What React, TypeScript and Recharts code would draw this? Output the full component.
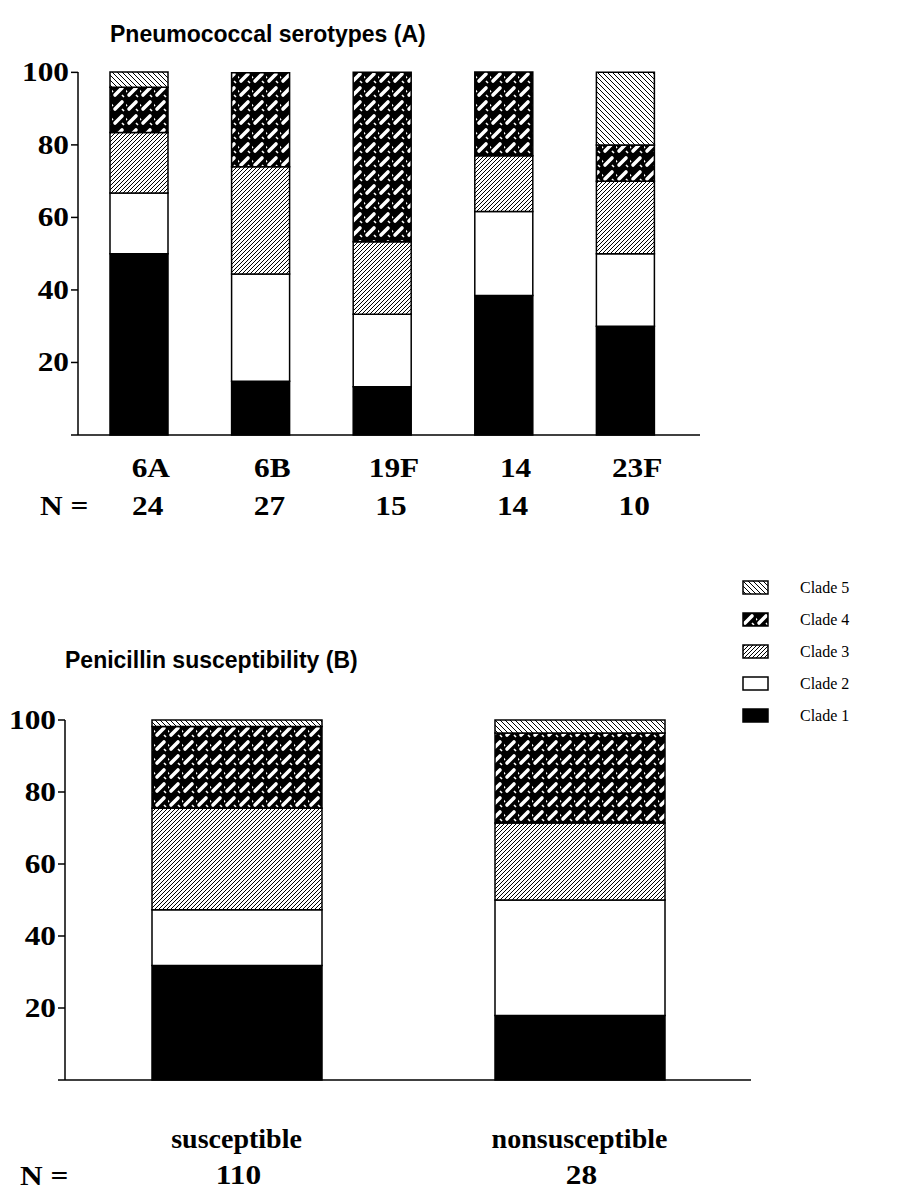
import React from "react";
import { Bar, BarChart, XAxis, YAxis } from "recharts";

const serotypes = ["6A", "6B", "19F", "14", "23F"];
const serotypeN = [24, 27, 15, 14, 10];
const clade1A = [50, 14.8, 13.3, 38.5, 30];
const clade2A = [16.7, 29.6, 20, 23.1, 20];
const clade3A = [16.7, 29.6, 20, 15.4, 20];
const clade4A = [12.5, 25.9, 46.7, 23.1, 10];
const clade5A = [4.2, 0, 0, 0, 20];

const penicillin = ["susceptible", "nonsusceptible"];
const penicillinN = [110, 28];
const clade1B = [31.8, 17.9];
const clade2B = [15.5, 32.1];
const clade3B = [28.2, 21.4];
const clade4B = [22.7, 25.0];
const clade5B = [1.8, 3.6];

const yTicks = [0, 20, 40, 60, 80, 100];
const clades = ["Clade 5", "Clade 4", "Clade 3", "Clade 2", "Clade 1"];

const dataA = serotypes.map((s, i) => ({
  name: s,
  n: serotypeN[i],
  c1: clade1A[i],
  c2: clade2A[i],
  c3: clade3A[i],
  c4: clade4A[i],
  c5: clade5A[i],
}));

const dataB = penicillin.map((s, i) => ({
  name: s,
  n: penicillinN[i],
  c1: clade1B[i],
  c2: clade2B[i],
  c3: clade3B[i],
  c4: clade4B[i],
  c5: clade5B[i],
}));

const serif = "'Liberation Serif', 'Times New Roman', serif";
const sans = "'Liberation Sans', Arial, sans-serif";
const tickSize = 28;
const stretch = 1.12;

// fills for the five clades, bottom to top
const fills = ["#000", "#fff", "url(#hatch3)", "url(#weave4)", "url(#hatch5)"];

function Patterns() {
  return (
    <svg width={0} height={0} style={{ position: "absolute" }}>
      <defs>
        <pattern id="hatch3" width={4} height={4} patternUnits="userSpaceOnUse">
          <rect width={4} height={4} fill="#fff" />
          <path d="M-1,1 L1,-1 M0,4 L4,0 M3,5 L5,3" stroke="#000" strokeWidth={1} />
        </pattern>
        <pattern id="hatch5" width={5} height={5} patternUnits="userSpaceOnUse">
          <rect width={5} height={5} fill="#fff" />
          <path d="M-1,4 L1,6 M0,0 L5,5 M4,-1 L6,1" stroke="#000" strokeWidth={1} />
        </pattern>
        <pattern id="weave4" width={14} height={14} patternUnits="userSpaceOnUse">
          <rect width={14} height={14} fill="#000" />
          <path d="M3,11 L10,4" stroke="#fff" strokeWidth={3.6} strokeLinecap="round" />
          <path d="M10,11 L12,13 M-1,6 L1,8" stroke="#fff" strokeWidth={1.6} />
        </pattern>
      </defs>
    </svg>
  );
}

function StretchText({ x, y, anchor = "middle", size = tickSize, sx = stretch, children }: any) {
  return (
    <text
      transform={`translate(${x} ${y}) scale(${sx} 1)`}
      textAnchor={anchor}
      fontFamily={serif}
      fontWeight="bold"
      fontSize={size}
      fill="#000"
    >
      {children}
    </text>
  );
}

function YTick(props: any) {
  const { x, y, payload } = props;
  if (payload.value === 0) return null;
  return (
    <StretchText x={x} y={y + 9} anchor="end">
      {payload.value}
    </StretchText>
  );
}

function SeroTick(props: any) {
  const { x, y, payload, index } = props;
  return (
    <g>
      <StretchText x={x + 12} y={y + 42}>
        {payload.value}
      </StretchText>
      <StretchText x={x + 9} y={y + 80}>
        {serotypeN[index]}
      </StretchText>
    </g>
  );
}

function PenTick(props: any) {
  const { x, y, payload, index } = props;
  return (
    <g>
      <StretchText x={x} y={y + 68} sx={1}>
        {payload.value}
      </StretchText>
      <StretchText x={x + 2} y={y + 104}>
        {penicillinN[index]}
      </StretchText>
    </g>
  );
}

function Bars() {
  return ["c1", "c2", "c3", "c4", "c5"].map((k, i) => (
    <Bar
      key={k}
      dataKey={k}
      stackId="a"
      fill={fills[i]}
      stroke="#000"
      strokeWidth={1.5}
      isAnimationActive={false}
    />
  ));
}

function Legend() {
  return (
    <div style={{ position: "absolute", left: 742, top: 572 }}>
      {clades.map((c, i) => (
        <div key={c} style={{ height: 32, display: "flex", alignItems: "center" }}>
          <svg width={28} height={16}>
            <rect x={1} y={1} width={25} height={13} fill={fills[4 - i]} stroke="#000" strokeWidth={1.5} />
          </svg>
          <span style={{ marginLeft: 30, fontFamily: serif, fontSize: 16, color: "#000" }}>{c}</span>
        </div>
      ))}
    </div>
  );
}

const nLabel: React.CSSProperties = {
  position: "absolute",
  fontFamily: serif,
  fontWeight: "bold",
  fontSize: tickSize,
  transform: `scaleX(${stretch})`,
  transformOrigin: "left",
  lineHeight: 1,
};

const title: React.CSSProperties = {
  position: "absolute",
  fontFamily: sans,
  fontWeight: "bold",
  fontSize: 23,
  lineHeight: 1,
};

export default function App() {
  return (
    <div style={{ position: "absolute", left: 0, top: 0, width: 909, height: 1192, background: "#fff" }}>
      <Patterns />
      <div style={{ ...title, left: 110, top: 23 }}>Pneumococcal serotypes (A)</div>
      <div style={{ position: "absolute", left: 0, top: 0 }}>
        <BarChart width={720} height={530} data={dataA} margin={{ top: 72, right: 20, bottom: 0, left: 0 }} barSize={58}>
          <YAxis
            width={78}
            domain={[0, 100]}
            ticks={yTicks}
            interval={0}
            tickSize={7}
            tickMargin={2}
            axisLine={{ stroke: "#000", strokeWidth: 1.5 }}
            tickLine={{ stroke: "#000", strokeWidth: 1.5 }}
            tick={<YTick />}
          />
          <XAxis
            dataKey="name"
            height={95}
            interval={0}
            padding={{ left: 0, right: 14 }}
            tickSize={0}
            tickMargin={0}
            tickLine={false}
            axisLine={{ stroke: "#000", strokeWidth: 1.5 }}
            tick={<SeroTick />}
          />
          {Bars()}
        </BarChart>
      </div>
      <div style={{ ...nLabel, left: 40, top: 492 }}>N =</div>

      <Legend />

      <div style={{ ...title, left: 65, top: 649 }}>Penicillin susceptibility (B)</div>
      <div style={{ position: "absolute", left: 0, top: 640 }}>
        <BarChart width={780} height={552} data={dataB} margin={{ top: 80, right: 29, bottom: 0, left: 0 }} barSize={170}>
          <YAxis
            width={65}
            domain={[0, 100]}
            ticks={yTicks}
            interval={0}
            tickSize={7}
            tickMargin={2}
            axisLine={{ stroke: "#000", strokeWidth: 1.5 }}
            tickLine={{ stroke: "#000", strokeWidth: 1.5 }}
            tick={<YTick />}
          />
          <XAxis
            dataKey="name"
            height={112}
            interval={0}
            tickSize={0}
            tickMargin={0}
            tickLine={false}
            axisLine={{ stroke: "#000", strokeWidth: 1.5 }}
            tick={<PenTick />}
          />
          {Bars()}
        </BarChart>
      </div>
      <div style={{ ...nLabel, left: 20, top: 1162 }}>N =</div>
    </div>
  );
}
